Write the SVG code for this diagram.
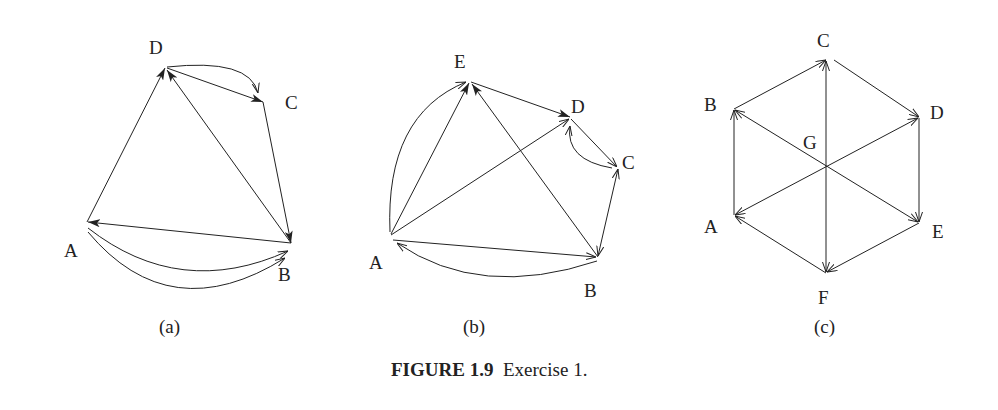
<svg xmlns="http://www.w3.org/2000/svg" width="998" height="410" viewBox="0 0 998 410">
<style>
text{font-family:"Liberation Serif","Times New Roman",serif;font-size:19px;fill:#222}
.e{fill:none;stroke:#222;stroke-width:1}
.f{marker-end:url(#fa)}
.o{marker-end:url(#oa)}
.os{marker-start:url(#oas)}
</style>
<defs>
<marker id="fa" viewBox="0 0 12 8" refX="12" refY="4" markerWidth="12" markerHeight="8" markerUnits="userSpaceOnUse" orient="auto"><path d="M0,0 L12,4 L0,8 L3,4 Z" fill="#222"/></marker>
<marker id="oa" viewBox="0 0 10 8" refX="10" refY="4" markerWidth="10" markerHeight="8" markerUnits="userSpaceOnUse" orient="auto"><path d="M0,0.5 L10,4 L0,7.5" fill="none" stroke="#222"/></marker>
<marker id="oas" viewBox="0 0 10 8" refX="0" refY="4" markerWidth="10" markerHeight="8" markerUnits="userSpaceOnUse" orient="auto"><path d="M10,0.5 L0,4 L10,7.5" fill="none" stroke="#222"/></marker>
</defs>
<g id="connectors">
<path class="e f" d="M87,222 L165,68"/>
<path class="e f" d="M167,68 L263,102"/>
<path class="e o" d="M167,67 Q250,58 258,93"/>
<path class="e f" d="M263,102 L291,243"/>
<path class="e f" d="M291,243 L167,70"/>
<path class="e f" d="M291,243 L88,222"/>
<path class="e o" d="M88,228 Q180,300 288,251"/>
<path class="e o" d="M88,232 Q170,330 285,258"/>
<path class="e f" d="M391,234 L469,83"/>
<path class="e o" d="M390,232 Q385,115 466,82"/>
<path class="e f" d="M598,257 L472,84"/>
<path class="e f" d="M471,82 L570,117"/>
<path class="e o" d="M391,235 L569,119"/>
<path class="e o" d="M571,119 L617,167"/>
<path class="e o" d="M612,168 Q565,160 570,126"/>
<path class="e o os" d="M598,256 L618,169"/>
<path class="e o" d="M393,240 L596,257"/>
<path class="e o" d="M597,261 Q480,300 397,243"/>
<path class="e o" d="M734,109 L826,60"/>
<path class="e o" d="M834,60 L919,117"/>
<path class="e o" d="M919,118 L919,222"/>
<path class="e o" d="M919,223 L827,272"/>
<path class="e o" d="M826,273 L735,216"/>
<path class="e o" d="M734,215 L734,110"/>
<path class="e o os" d="M826,61 L826,272"/>
<path class="e o os" d="M735,215 L918,118"/>
<path class="e o os" d="M735,110 L918,222"/>
</g>
<g id="labels-a"><text x="149" y="54">D</text><text x="285" y="109">C</text><text x="64" y="257">A</text><text x="278" y="281">B</text><text x="159" y="333">(a)</text></g>
<g id="labels-b"><text x="454" y="68">E</text><text x="571" y="113">D</text><text x="622" y="169">C</text><text x="369" y="269">A</text><text x="584" y="297">B</text><text x="463" y="333">(b)</text></g>
<g id="labels-c"><text x="817" y="47">C</text><text x="704" y="111">B</text><text x="930" y="119">D</text><text x="803" y="149">G</text><text x="704" y="233">A</text><text x="932" y="238">E</text><text x="818" y="304">F</text><text x="814" y="333">(c)</text></g>
<text x="391" y="376" font-weight="bold">FIGURE 1.9</text><text x="503" y="376">Exercise 1.</text>
</svg>
